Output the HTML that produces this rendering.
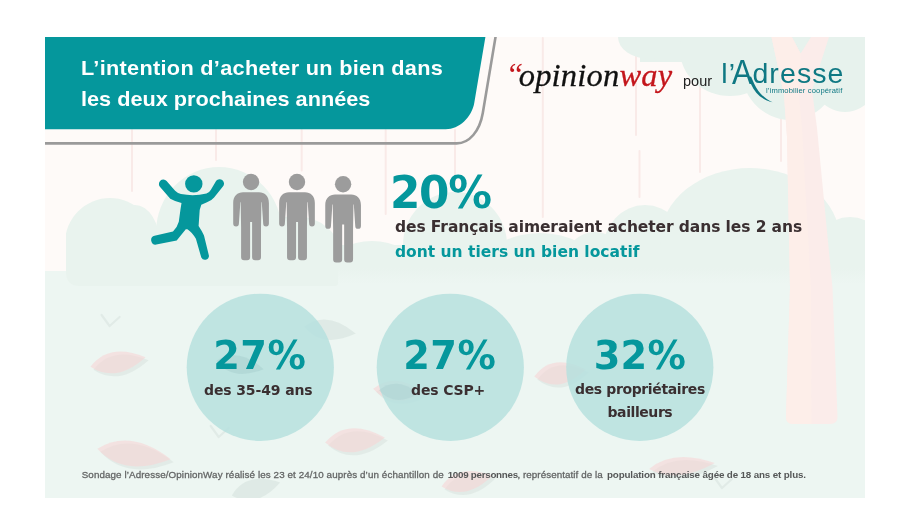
<!DOCTYPE html>
<html lang="fr">
<head>
<meta charset="utf-8">
<title>L’intention d’acheter un bien dans les deux prochaines années</title>
<style>
html,body{margin:0;padding:0;background:#fff;}
body{width:900px;height:515px;position:relative;overflow:hidden;font-family:"Liberation Sans",sans-serif;}
#frame{position:absolute;left:45px;top:37px;width:820px;height:461px;background:#fefaf8;overflow:hidden;}
#bg{position:absolute;left:0;top:0;}
.t{position:absolute;white-space:nowrap;line-height:1;margin:0;}
.title{color:#fff;font-weight:bold;font-size:21px;}
.big{color:#05979c;font-weight:bold;font-size:42.5px;font-family:"DejaVu Sans","Liberation Sans",sans-serif;}
.dark{color:#3a2f31;font-weight:bold;font-family:"DejaVu Sans","Liberation Sans",sans-serif;}
.teal{color:#05979c;font-weight:bold;font-family:"DejaVu Sans","Liberation Sans",sans-serif;}
.foot{color:#646666;font-size:9.8px;}
.foot span{-webkit-text-stroke:0.3px #646666;}
.foot b{color:#555757;}
</style>
</head>
<body>
<div id="frame">
<svg id="bg" width="820" height="461" viewBox="45 37 820 461">
  <!-- thin trunks -->
  <rect x="131.0" y="129" width="2" height="63" rx="1.0" fill="#f9eae8"/>
  <rect x="215.0" y="129" width="2" height="32" rx="1.0" fill="#f9eae8"/>
  <rect x="300.7" y="129" width="2" height="42.5" rx="1.0" fill="#f9eae8"/>
  <rect x="384.7" y="129" width="2" height="86" rx="1.0" fill="#f9eae8"/>
  <rect x="454.0" y="129" width="2" height="83" rx="1.0" fill="#f9eae8"/>
  <rect x="541.8" y="37" width="2" height="181" rx="1.0" fill="#f9eae8"/>
  <rect x="638.5" y="150" width="2" height="48" rx="1.0" fill="#f9eae8"/>
  <rect x="635.0" y="37" width="2" height="99" rx="1.0" fill="#f9eae8"/>
  <rect x="699.0" y="37" width="2" height="136" rx="1.0" fill="#f9eae8"/>
  <rect x="780.0" y="100" width="2" height="62" rx="1.0" fill="#f9eae8"/>
  <!-- foliage -->
  <rect x="640" y="37" width="225" height="25" fill="#e7f2ed"/>
  <ellipse cx="650" cy="37" rx="32" ry="22" fill="#e7f2ed"/>
  <ellipse cx="730" cy="50" rx="50" ry="46" fill="#e7f2ed"/>
  <ellipse cx="790" cy="65" rx="50" ry="55" fill="#e7f2ed"/>
  <ellipse cx="845" cy="60" rx="40" ry="52" fill="#e7f2ed"/>
  <!-- ground -->
  <rect x="45" y="271" width="820" height="227" fill="#edf6f2"/>
  <!-- bushes -->
  <clipPath id="bc"><path d="M45 37 H865 V283 H345 Q338 283 336 286 H80 Q66 286 66 272 V37 Z"/></clipPath>
  <g clip-path="url(#bc)">
  <ellipse cx="110" cy="243" rx="45" ry="45" fill="#e9f3ee"/>
  <ellipse cx="135" cy="245" rx="25" ry="40" fill="#e9f3ee"/>
  <ellipse cx="219" cy="232" rx="63" ry="65" fill="#e9f3ee"/>
  <ellipse cx="295" cy="256" rx="46" ry="40" fill="#e9f3ee"/>
  <ellipse cx="372" cy="266" rx="42" ry="25" fill="#e9f3ee"/>
  <ellipse cx="455" cy="245" rx="52" ry="53" fill="#e9f3ee"/>
  <ellipse cx="540" cy="266" rx="55" ry="33" fill="#e9f3ee"/>
  <ellipse cx="595" cy="262" rx="30" ry="30" fill="#e9f3ee"/>
  <ellipse cx="645" cy="250" rx="42" ry="45" fill="#e9f3ee"/>
  <ellipse cx="750" cy="240" rx="90" ry="72" fill="#e9f3ee"/>
  <ellipse cx="850" cy="262" rx="40" ry="45" fill="#e9f3ee"/>
  <path d="M65 245 H865 V290 H65 Z" fill="#e9f3ee"/>
  </g>
  <linearGradient id="fd" x1="0" y1="0" x2="0" y2="1"><stop offset="0" stop-color="#edf6f2" stop-opacity="0"/><stop offset="1" stop-color="#edf6f2" stop-opacity="1"/></linearGradient>
  <rect x="338" y="268" width="527" height="16" fill="url(#fd)"/>
  <!-- big trunk -->
  <path d="M771.5 37 L784 95 L787 137 L790 288 L786 417 Q786 424 793 424 H830 Q837.5 424 837.5 417 L832.5 288 L817 128 L812 90 L829 37 H811 L800.6 53.5 L791.9 37 Z" fill="#fbecea"/>
  <path d="M771.5 37 L784 95 L787 137 L790 288 L786 417 Q786 424 793 424 H811.5 L811 288 L802 128 L798.5 90 L800.6 53.5 L791.9 37 Z" fill="#fdeee9"/>
  <!-- leaves -->
  <path transform="translate(121 365) rotate(-10)" d="M-28.0 0 Q-5.6 -21 28.0 0 Q-5.6 21 -28.0 0 Z" fill="#dde7e3" opacity="0.7"/>
  <path transform="translate(118 362) rotate(-10)" d="M-28.0 0 Q-5.6 -21 28.0 0 Q-5.6 21 -28.0 0 Z" fill="#f7d5d6" opacity="0.6"/>
  <path transform="translate(137 457) rotate(8)" d="M-37.0 0 Q-7.4 -25 37.0 0 Q-7.4 25 -37.0 0 Z" fill="#dde7e3" opacity="0.7"/>
  <path transform="translate(134 454) rotate(8)" d="M-37.0 0 Q-7.4 -25 37.0 0 Q-7.4 25 -37.0 0 Z" fill="#f7d5d6" opacity="0.6"/>
  <path transform="translate(358 443) rotate(-5)" d="M-30.0 0 Q-6.0 -24 30.0 0 Q-6.0 24 -30.0 0 Z" fill="#dde7e3" opacity="0.7"/>
  <path transform="translate(355 440) rotate(-5)" d="M-30.0 0 Q-6.0 -24 30.0 0 Q-6.0 24 -30.0 0 Z" fill="#f7d5d6" opacity="0.6"/>
  <path transform="translate(563 376) rotate(-8)" d="M-26.0 0 Q-5.2 -22 26.0 0 Q-5.2 22 -26.0 0 Z" fill="#dde7e3" opacity="0.7"/>
  <path transform="translate(560 373) rotate(-8)" d="M-26.0 0 Q-5.2 -22 26.0 0 Q-5.2 22 -26.0 0 Z" fill="#f7d5d6" opacity="0.6"/>
  <path transform="translate(470 484) rotate(-12)" d="M-26.0 0 Q-5.2 -20 26.0 0 Q-5.2 20 -26.0 0 Z" fill="#dde7e3" opacity="0.7"/>
  <path transform="translate(467 481) rotate(-12)" d="M-26.0 0 Q-5.2 -20 26.0 0 Q-5.2 20 -26.0 0 Z" fill="#f7d5d6" opacity="0.6"/>
  <path transform="translate(685 469) rotate(-5)" d="M-33.0 0 Q-6.6 -18 33.0 0 Q-6.6 18 -33.0 0 Z" fill="#dde7e3" opacity="0.7"/>
  <path transform="translate(682 466) rotate(-5)" d="M-33.0 0 Q-6.6 -18 33.0 0 Q-6.6 18 -33.0 0 Z" fill="#f7d5d6" opacity="0.6"/>
  <path transform="translate(402 394) rotate(5)" d="M-26.0 0 Q-5.2 -20 26.0 0 Q-5.2 20 -26.0 0 Z" fill="#dde7e3" opacity="0.7"/>
  <path transform="translate(399 391) rotate(5)" d="M-26.0 0 Q-5.2 -20 26.0 0 Q-5.2 20 -26.0 0 Z" fill="#f7d5d6" opacity="0.6"/>
  <path transform="translate(330 330) rotate(8)" d="M-26.0 0 Q-5.2 -20 26.0 0 Q-5.2 20 -26.0 0 Z" fill="#d5e2de" opacity="0.6"/>
  <path transform="translate(256 489) rotate(-15)" d="M-25.0 0 Q-5.0 -20 25.0 0 Q-5.0 20 -25.0 0 Z" fill="#d5e2de" opacity="0.6"/>
  <path d="M101.6 315 L109.6 326 L119.6 317" fill="none" stroke="#e1ebe7" stroke-width="2.2" stroke-linecap="round" stroke-linejoin="round"/>
  <path d="M210.7 426 L218.7 437 L228.7 428" fill="none" stroke="#e1ebe7" stroke-width="2.2" stroke-linecap="round" stroke-linejoin="round"/>
  <path d="M714 477 L722 488 L732 479" fill="none" stroke="#e1ebe7" stroke-width="2.2" stroke-linecap="round" stroke-linejoin="round"/>
  <!-- circles -->
  <circle cx="260.3" cy="367.3" r="73.6" fill="rgb(182,224,222)" fill-opacity="0.85"/>
  <circle cx="450.3" cy="367.3" r="73.6" fill="rgb(182,224,222)" fill-opacity="0.85"/>
  <circle cx="639.8" cy="367.3" r="73.6" fill="rgb(182,224,222)" fill-opacity="0.85"/>

  <path transform="translate(240 365) rotate(10)" d="M-24.0 0 Q-4.8 -18 24.0 0 Q-4.8 18 -24.0 0 Z" fill="#a5cccd" opacity="0.45"/>
  <path transform="translate(399 392) rotate(5)" d="M-20.0 0 Q-4.0 -16 20.0 0 Q-4.0 16 -20.0 0 Z" fill="#a5cccd" opacity="0.35"/>
  <!-- jumping figure -->
  <g fill="#05979c">
    <circle cx="193.8" cy="183.9" r="8.7"/>
    <path d="M166.6 181 L175.1 190.8 Q177.5 193.3 181 194 Q193.8 196.5 206.5 193.5 Q209.5 192.5 210.9 189.8 L216.2 180.7 A4.4 4.4 0 0 1 222.9 186.6 L214.1 197.6 Q211.5 200.8 207 202.3 L201.3 204.7 L199.7 210 L198.6 226 Q202 231 204 235.6 L209 256 A4.1 4.1 0 0 1 201.3 257.6 L195.9 238.8 Q192 232 187.4 229.2 L185.8 229.2 L176.7 240.4 L156.3 244.6 A4.5 4.5 0 0 1 154.5 235.8 L173 231.4 Q177.5 227 178.8 221.8 L180.4 210 L181.5 203.1 Q175 201.5 170.3 198.8 L160.1 187.1 A4.4 4.4 0 0 1 166.6 181 Z"/>
  </g>
  <!-- standing figures -->
  <g fill="#9c9c9c">
<circle cx="251.05" cy="182.0" r="8.2"/><path d="M233.2 223.6 V203 C233.2 196 237.55 192.3 243.05 192.3 H259.05 C264.55 192.3 268.9 196 268.9 203 V223.6 a2.85 2.85 0 0 1 -5.7 0 L261.75 202.2 H240.35 L238.9 223.6 a2.85 2.85 0 0 1 -5.7 0 Z"/><path d="M240.65 200 L241.1 227 V257.3 a3 3 0 0 0 3 3 H247.1 a3 3 0 0 0 3 -3 V222.1 H252.1 V257.3 a3 3 0 0 0 3 3 H258.0 a3 3 0 0 0 3 -3 V227 L261.45 200 Z"/>
<circle cx="297.0" cy="182.0" r="8.2"/><path d="M279.15 223.6 V203 C279.15 196 283.5 192.3 289.0 192.3 H305.0 C310.5 192.3 314.85 196 314.85 203 V223.6 a2.85 2.85 0 0 1 -5.7 0 L307.7 202.2 H286.3 L284.85 223.6 a2.85 2.85 0 0 1 -5.7 0 Z"/><path d="M286.6 200 L287.05 227 V257.3 a3 3 0 0 0 3 3 H293.05 a3 3 0 0 0 3 -3 V222.1 H298.05 V257.3 a3 3 0 0 0 3 3 H303.95 a3 3 0 0 0 3 -3 V227 L307.4 200 Z"/>
<circle cx="343.1" cy="184.3" r="8.2"/><path d="M325.25 225.9 V205.3 C325.25 198.3 329.6 194.6 335.1 194.6 H351.1 C356.6 194.6 360.95 198.3 360.95 205.3 V225.9 a2.85 2.85 0 0 1 -5.7 0 L353.8 204.5 H332.4 L330.95 225.9 a2.85 2.85 0 0 1 -5.7 0 Z"/><path d="M332.7 202.3 L333.15 229.3 V259.6 a3 3 0 0 0 3 3 H339.15 a3 3 0 0 0 3 -3 V224.4 H344.15 V259.6 a3 3 0 0 0 3 3 H350.05 a3 3 0 0 0 3 -3 V229.3 L353.5 202.3 Z"/>
  </g>
  <!-- banner -->
  <path d="M45 37 H485.4 L474.3 102.7 C471.9 117.3 459.1 129.2 445.8 129.2 H45 Z" fill="#05979c"/>
  <path d="M45 143.4 H456.7 C469.3 143.4 479.7 131.2 482.8 113 L495.7 36" fill="none" stroke="#9a9a9a" stroke-width="2.6"/>
  <path d="M751.0 76.5 L754.2 83.7 C757.5 91 763.5 98.5 772.5 102.2 C762 100 754.8 93 751.2 84.5 L747.9 77.2 Z" fill="#0f7883"/>
</svg>
</div>
<div class="t title" id="t1" style="left:81.2px;top:57.4px;letter-spacing:0.29px;transform:scaleX(1.033);transform-origin:0 0;">L’intention d’acheter un bien dans</div>
<div class="t title" id="t2" style="left:81.2px;top:88.4px;letter-spacing:0px;transform:scaleX(1.033);transform-origin:0 0;">les deux prochaines années</div>

<div class="t big" id="b0" style="left:390.1px;top:171.3px;font-size:43.7px;letter-spacing:-1.375px;">20%</div>
<div class="t dark" id="l2" style="left:395px;top:220px;font-size:15.5px;letter-spacing:-0.096px;">des Français aimeraient acheter dans les 2 ans</div>
<div class="t teal" id="l3" style="left:395px;top:244.6px;font-size:15.5px;">dont un tiers un bien locatif</div>
<div class="t big" id="b1" style="left:213.2px;top:336.8px;font-size:38.3px;letter-spacing:0.45px;">27%</div>
<div class="t dark" id="c1" style="left:204px;top:382.5px;font-size:14px;letter-spacing:-0.12px;">des 35-49 ans</div>
<div class="t big" id="b2" style="left:403.2px;top:336.8px;font-size:38.3px;letter-spacing:0.45px;">27%</div>
<div class="t dark" id="c2" style="left:411px;top:382.5px;font-size:14px;letter-spacing:-0.14px;">des CSP+</div>
<div class="t big" id="b3" style="left:593.7px;top:336.8px;font-size:38.3px;letter-spacing:0.2px;">32%</div>
<div class="t dark" id="c3" style="left:575px;top:382.4px;font-size:14px;letter-spacing:-0.37px;">des propriétaires</div>
<div class="t dark" id="c4" style="left:607.5px;top:405.2px;font-size:14px;letter-spacing:-0.42px;">bailleurs</div>
<div class="t foot" id="ft" style="left:0;top:469.8px;"><span style="position:absolute;left:81.7px;letter-spacing:0.107px;">Sondage l’Adresse/OpinionWay réalisé les 23 et 24/10 auprès d’un échantillon de </span><b style="position:absolute;left:447.7px;letter-spacing:-0.28px;">1009 personnes</b><span style="position:absolute;left:517.4px;letter-spacing:0.075px;">, représentatif de la </span><b style="position:absolute;left:607px;letter-spacing:-0.145px;">population française âgée de 18 ans et plus.</b></div>
<div class="t" id="oq" style="left:505.4px;top:58px;font-family:'Liberation Serif',serif;font-style:italic;font-size:32px;color:#c4161c;">“</div>
<div class="t" id="ow" style="left:518.7px;top:58.6px;font-family:'Liberation Serif',serif;font-style:italic;font-size:32.5px;color:#111;letter-spacing:0.2px;-webkit-text-stroke:0.3px;">opinion<span style="color:#c4161c">way</span></div>
<div class="t" id="po" style="left:683px;top:74px;font-size:14.5px;color:#222;">pour</div>
<div class="t" id="ad" style="left:0;top:0;color:#0f7883;"><span id="ad1" style="position:absolute;left:721.3px;top:59.3px;font-size:28.5px;letter-spacing:1.2px;">l’</span><span id="ad2" style="position:absolute;left:732.2px;top:53.8px;font-size:35px;transform:scaleX(0.88);transform-origin:0 0;">A</span><span id="ad3" style="position:absolute;left:752.4px;top:59.3px;font-size:28.5px;letter-spacing:1.1px;">dresse</span></div>
<div class="t" id="tg" style="left:766px;top:87.2px;font-size:7.6px;color:#0f7883;letter-spacing:0.13px;">l’immobilier coopératif</div>
</body>
</html>
